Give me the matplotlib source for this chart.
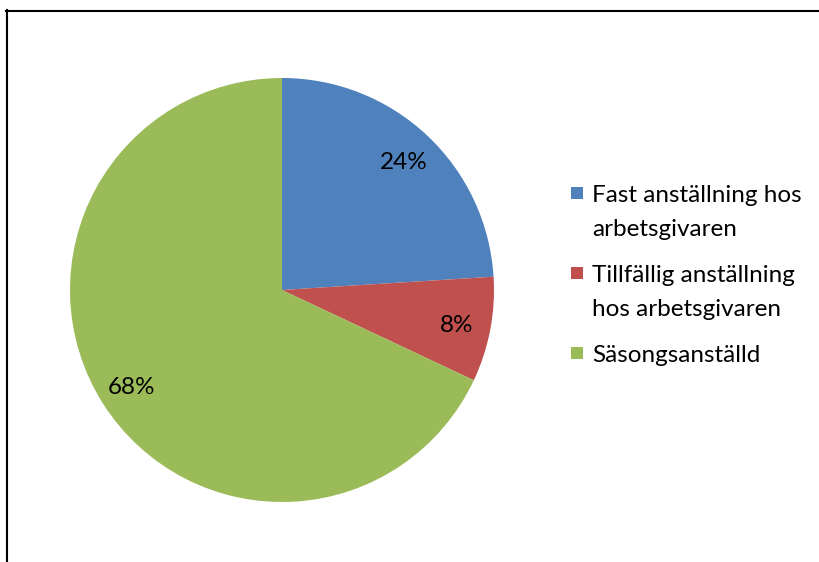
import matplotlib
matplotlib.use("Agg")
import matplotlib.pyplot as plt
from matplotlib.lines import Line2D
from matplotlib.patches import Rectangle

categories = ["Fast anställning hos\narbetsgivaren",
              "Tillfällig anställning\nhos arbetsgivaren",
              "Säsongsanställd"]
shares = [24, 8, 68]
colors = ["#4F81BD", "#C0504D", "#9BBB59"]

W, H = 819, 562
fig = plt.figure(figsize=(W / 100, H / 100), dpi=100)
plt.rcParams["font.family"] = ["Lato", "DejaVu Sans"]
FS = 17.5

# Pie area: center (282, 290) px, radius 212 px
cx, cy, r = 282, 290, 212
ax = fig.add_axes([(cx - r) / W, (H - cy - r) / H, 2 * r / W, 2 * r / H])
wedges, texts, autotexts = ax.pie(
    shares, colors=colors, startangle=90, counterclock=False,
    autopct="%d%%", pctdistance=0.84, radius=1,
    textprops=dict(fontsize=FS, color="black"))
for t in autotexts:
    t.set_va("center_baseline")
ax.set_xlim(-1, 1)
ax.set_ylim(-1, 1)
ax.set_aspect("equal")
ax.axis("off")

# Legend drawn beside the pie, one text line at a time
x_box, x_text = 571, 592
y_rows = [193, 273, 353]
line_gap = 34
for label, color, y in zip(categories, colors, y_rows):
    fig.patches.append(Rectangle((x_box / W, 1 - (y + 6) / H), 12 / W, 12 / H,
                                 transform=fig.transFigure, facecolor=color,
                                 edgecolor="none"))
    for i, line in enumerate(label.split("\n")):
        fig.text(x_text / W, 1 - (y + i * line_gap) / H, line, fontsize=FS,
                 va="center_baseline", ha="left")

# Outer frame (top and left edges)
fig.lines.append(Line2D([6 / W, 1], [1 - 10.5 / H, 1 - 10.5 / H],
                        transform=fig.transFigure, color="black", lw=1.5))
fig.lines.append(Line2D([6.5 / W, 6.5 / W], [0, 1 - 10 / H],
                        transform=fig.transFigure, color="black", lw=1.5))

fig.savefig("out.png", dpi=100)
